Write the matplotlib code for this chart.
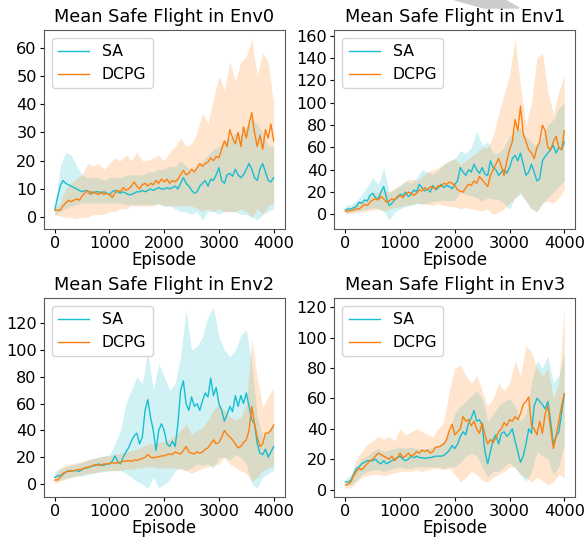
import numpy as np
import matplotlib
matplotlib.use("Agg")
import matplotlib.pyplot as plt
from matplotlib.patches import Polygon
from matplotlib.ticker import MultipleLocator

# episodes for the mean curves (every 50) and for the bands (every 100)
ep = np.arange(0, 4001, 50)
ep_band = np.arange(0, 4001, 100)

titles = ["Mean Safe Flight in Env0", "Mean Safe Flight in Env1",
          "Mean Safe Flight in Env2", "Mean Safe Flight in Env3"]
labels = ["SA", "DCPG"]
ytick_steps = [10, 20, 20, 20]

# ---- Env0 ----
sa_env0 = [2.5, 7, 11, 13, 12, 11.5, 11, 10.5, 10, 9.5, 9, 9.5, 9, 9, 8.5, 9, 9, 8.5, 9, 8.5,
           8, 9, 9.5, 9, 8.5, 9, 8.5, 8, 8, 8.5, 9, 9, 9.5, 9, 9.5, 10, 9.5, 10, 10.5, 10,
           10, 10.5, 10, 10.5, 11, 10, 12, 14, 12, 11, 9.5, 8.5, 9, 11, 12, 13, 11, 13.5, 13, 15,
           17.5, 13, 12, 15, 15.5, 14.5, 17, 15, 14, 15, 17, 19, 17, 14, 13, 17, 19, 16, 13, 12.5, 14]
sa_env0_lo = [0.5, 2, 3, 4, 4.5, 5, 5, 5, 5, 5, 5, 5, 5, 4.5, 4.5, 4.5, 4.5, 4.5, 4.5, 4.5,
              4, 4, 3, 2, 2, 1, 2, -1, 2, 2, 1, 2, 2, 2, 1, 1, 0, -1, 1, 2, 3]
sa_env0_hi = [3, 18, 23, 22, 18, 15, 14, 14, 14, 13, 14, 14, 14, 15, 15, 15, 15, 16, 16, 17,
              17, 18, 18, 20, 18, 16, 18, 20, 22, 24, 25, 27, 28, 30, 29, 32, 35, 33, 30, 25, 25]
dcpg_env0 = [2.5, 2.5, 2.5, 4, 5, 6, 5.5, 6, 6.5, 6, 7.5, 8.5, 9.5, 8, 9, 8.5, 8, 9, 8, 8.5,
             8, 7, 8.5, 9.5, 9, 10.5, 9.5, 10, 11, 12.5, 11, 10, 11.5, 12, 11, 12, 11.5, 13, 12, 13.5,
             12.5, 13.5, 12, 13, 12.5, 13.5, 15, 16.5, 15, 15.5, 17, 16, 17.5, 19, 18, 19, 19.5, 21, 20, 21.5,
             21, 24, 27, 25, 31, 28, 26, 30, 25, 32, 28, 33, 37, 30, 25, 29, 24, 31, 28, 33, 27]
dcpg_env0_lo = [1, 0.5, 0, 0, -0.5, 0, 0, 1, 1, 1, 2, 2, 3, 3, 4, 4, 4, 4, 4, 5,
                4, 4, 4, 4, 4, 4, 3, 2, 3, 2, 3, 2, 2, 2, 3, 2, 0, 3, 1, 4, 5]
dcpg_env0_hi = [3, 5, 10, 12, 14, 15, 19, 18, 19, 17, 19, 21, 20, 22, 20, 23, 20, 20, 21, 22,
                20, 23, 25, 28, 25, 26, 30, 37, 33, 42, 50, 45, 55, 48, 55, 57, 63, 50, 58, 55, 40]

# ---- Env1 ----
sa_env1 = [4, 5, 5, 6, 7, 11, 10, 13, 12, 17, 19, 15, 14, 20, 25, 15, 8, 10, 13, 15,
           18, 17, 20, 16, 18, 22, 20, 27, 24, 21, 23, 20, 26, 22, 24, 27, 24, 26, 25, 23,
           27, 30, 42, 38, 35, 40, 38, 45, 40, 37, 42, 36, 35, 48, 42, 40, 35, 38, 40, 37,
           42, 50, 53, 48, 55, 45, 35, 38, 45, 38, 30, 32, 48, 52, 55, 58, 62, 55, 60, 58, 65]
sa_env1_lo = [1, 2, 3, 4, 5, 6, 5, 3, -5, 2, 5, 7, 8, 10, 9, 10, 12, 12, 13, 12,
              13, 20, 18, 17, 15, 12, 15, 14, 13, 10, 5, 15, 18, 12, 5, 2, 10, 15, 20, 25, 30]
sa_env1_hi = [8, 9, 12, 18, 25, 33, 27, 42, 20, 22, 26, 30, 28, 33, 40, 38, 36, 40, 45, 48,
              50, 57, 55, 60, 75, 62, 65, 55, 55, 60, 70, 75, 78, 70, 65, 60, 70, 80, 85, 95, 100]
dcpg_env1 = [3, 3, 3.5, 4, 5, 5, 7, 9, 8, 11, 13, 14, 13, 16, 14, 11, 12, 14, 13, 16,
             17, 15, 18, 20, 19, 17, 19, 22, 21, 24, 22, 25, 24, 23, 26, 25, 28, 27, 29, 28,
             26, 22, 21, 20, 24, 27, 26, 30, 28, 34, 31, 28, 25, 35, 40, 45, 50, 43, 35, 48,
             58, 65, 85, 75, 97, 72, 65, 58, 55, 50, 60, 65, 80, 75, 60, 58, 65, 70, 60, 58, 75]
dcpg_env1_lo = [1, 1, 2, 2, 3, 4, 5, 3, 5, 6, 7, 8, 9, 10, 10, 9, 8, 10, 8, 7,
                7, 5, 6, 5, 4, 3, 5, 0, 2, 5, 10, 15, 20, 12, 5, 3, 10, 12, 10, 15, 22]
dcpg_env1_hi = [5, 6, 10, 12, 14, 18, 20, 22, 20, 24, 26, 30, 32, 30, 34, 38, 40, 42, 45, 48,
                50, 45, 48, 52, 55, 60, 60, 70, 90, 108, 125, 157, 115, 80, 100, 140, 145, 110, 90, 110, 125]

# ---- Env2 ----
sa_env2 = [5, 6, 6.5, 7, 9, 10, 9.5, 10, 10, 9.5, 11, 12, 12, 13, 13.5, 14, 15, 14, 14, 15,
           15, 17, 21, 17, 15, 20, 24, 27, 32, 36, 38, 30, 35, 55, 63, 50, 40, 25, 40, 45,
           40, 30, 28, 32, 28, 45, 70, 77, 60, 55, 65, 58, 60, 55, 62, 68, 65, 79, 66, 72,
           60, 55, 47, 52, 58, 54, 66, 58, 66, 60, 68, 58, 48, 45, 30, 23, 22, 26, 20, 24, 28]
sa_env2_lo = [2, 3, 4, 5, 6, 6, 7, 8, 9, 9, 10, 10, 10, 8, 5, 2, 0, -3, 5, -3,
              0, 3, 10, 12, 10, 12, 15, 14, 15, 12, 20, 20, 18, 22, 20, 15, 0, -3, 5, 8, 10]
sa_env2_hi = [10, 11, 13, 14, 15, 16, 18, 19, 20, 21, 22, 30, 40, 60, 70, 80, 75, 98, 70, 90,
              80, 70, 75, 95, 130, 100, 103, 110, 125, 132, 110, 100, 95, 100, 111, 115, 90, 50, 35, 40, 45]
dcpg_env2 = [3, 3, 5, 8, 9, 9.5, 10, 10, 10.5, 11, 11, 12, 12.5, 13, 14, 14.5, 14, 14.5, 15, 15,
             15.5, 16, 15.5, 16, 16, 17, 17, 17.5, 17, 18, 17.5, 18.5, 19, 20, 22, 20, 19.5, 20, 20.5, 21,
             21, 22, 22.5, 22, 24, 23, 22.5, 25, 28, 24, 23, 22.5, 24, 23, 24, 26, 27, 30, 33, 30,
             31, 35, 40, 37, 35, 33, 30, 27, 28, 31, 33, 40, 58, 45, 35, 28, 30, 38, 38, 40, 44]
dcpg_env2_lo = [0, 2, 4, 5, 6, 7, 8, 8, 9, 10, 10, 10, 10, 11, 11, 12, 12, 13, 13, 12,
                12, 12, 12, 11, 10, 8, 10, 12, 13, 14, 15, 20, 15, 12, 10, 8, 2, 5, 10, 12, 14]
dcpg_env2_hi = [6, 12, 14, 15, 16, 17, 18, 19, 20, 21, 21, 22, 23, 24, 25, 26, 28, 30, 30, 31,
                32, 34, 36, 40, 45, 37, 40, 42, 48, 55, 60, 55, 50, 48, 50, 60, 108, 80, 57, 65, 72]

# ---- Env3 ----
sa_env3 = [5, 5, 6, 10, 14, 15, 17, 18, 19, 19, 19, 20, 18, 17, 19, 17, 18, 19, 20, 21,
           22, 20, 19, 20, 22, 21, 22, 21, 21, 20.5, 21, 21, 21.5, 22, 22, 22, 22.5, 24, 26, 29,
           27, 30, 35, 38, 36, 44, 47, 52, 45, 46, 42, 25, 17, 25, 33, 36, 30, 37, 38, 35,
           37, 40, 32, 25, 18, 22, 30, 40, 37, 55, 60, 58, 56, 53, 58, 45, 30, 35, 38, 50, 63]
sa_env3_lo = [3, 3, 6, 10, 12, 13, 13, 12, 13, 14, 15, 14, 14, 15, 15, 15, 15, 15, 14, 15,
              15, 18, 22, 24, 22, 15, 8, 12, 12, 15, 18, 14, 10, 5, 12, 25, 22, 20, 10, 15, 30]
sa_env3_hi = [7, 10, 15, 20, 22, 25, 27, 25, 26, 27, 28, 27, 28, 27, 27, 27, 28, 29, 32, 38,
              50, 55, 58, 62, 65, 60, 45, 50, 55, 58, 60, 55, 45, 50, 70, 85, 80, 88, 70, 75, 90]
dcpg_env3 = [3, 3.5, 5, 9, 12, 14, 13, 15, 17, 19, 20, 22, 24, 23, 22, 21, 20, 22, 19, 21,
             24, 21, 22, 24, 22, 23, 25, 24, 26, 25, 26, 24, 25, 28, 28, 29, 30, 33, 39, 43,
             36, 38, 40, 48, 45, 46, 42, 45, 40, 37, 44, 36, 30, 33, 31, 34, 38, 40, 44, 42,
             46, 45, 48, 46, 50, 56, 58, 61, 42, 40, 36, 45, 37, 50, 55, 40, 27, 35, 45, 55, 63]
dcpg_env3_lo = [1, 1, 5, 8, 9, 10, 10, 9, 10, 11, 12, 12, 12, 13, 12, 13, 14, 14, 13, 14,
                10, 5, 8, 12, 10, 6, 5, 8, 10, 12, 15, 15, 10, 8, 5, 8, 6, 3, 5, 10, 8]
dcpg_env3_hi = [5, 8, 20, 25, 30, 32, 35, 33, 35, 32, 40, 36, 38, 40, 38, 36, 35, 40, 45, 65,
                80, 82, 75, 70, 75, 65, 55, 60, 70, 65, 70, 85, 75, 95, 90, 80, 75, 80, 60, 70, 120]

sa_means = [sa_env0, sa_env1, sa_env2, sa_env3]
sa_los = [sa_env0_lo, sa_env1_lo, sa_env2_lo, sa_env3_lo]
sa_his = [sa_env0_hi, sa_env1_hi, sa_env2_hi, sa_env3_hi]
dcpg_means = [dcpg_env0, dcpg_env1, dcpg_env2, dcpg_env3]
dcpg_los = [dcpg_env0_lo, dcpg_env1_lo, dcpg_env2_lo, dcpg_env3_lo]
dcpg_his = [dcpg_env0_hi, dcpg_env1_hi, dcpg_env2_hi, dcpg_env3_hi]

sa_color = "#17becf"
dcpg_color = "#ff7f0e"

fig, axes = plt.subplots(2, 2, figsize=(5.84, 5.38), dpi=100)
fig.subplots_adjust(left=0.075, right=0.985, top=0.944, bottom=0.076,
                    wspace=0.207, hspace=0.347)

for i, ax in enumerate(axes.flat):
    ax.fill_between(ep_band, sa_los[i], sa_his[i], color=sa_color, alpha=0.2, linewidth=0)
    ax.fill_between(ep_band, dcpg_los[i], dcpg_his[i], color=dcpg_color, alpha=0.2, linewidth=0)
    ax.plot(ep, sa_means[i], color=sa_color, linewidth=1, label=labels[0])
    ax.plot(ep, dcpg_means[i], color=dcpg_color, linewidth=1, label=labels[1])
    ax.set_title(titles[i], fontsize=12.8, pad=6)
    ax.set_xlabel("Episode", fontsize=12, labelpad=0)
    ax.set_xticks([0, 1000, 2000, 3000, 4000])
    ax.yaxis.set_major_locator(MultipleLocator(ytick_steps[i]))
    ax.tick_params(length=3, pad=2, labelsize=11.6)
    ax.legend(loc="upper left", fontsize=11.3)
    for s in ax.spines.values():
        s.set_edgecolor("0.35")

# grey corner mark present on the source page
fig.patches.append(Polygon([[455 / 584, 1], [505 / 584, 1], [519 / 584, 1 - 8 / 538], [484 / 584, 1 - 8 / 538]],
                           closed=True, transform=fig.transFigure, color="#cccccc", zorder=0))

plt.savefig("out.png")
